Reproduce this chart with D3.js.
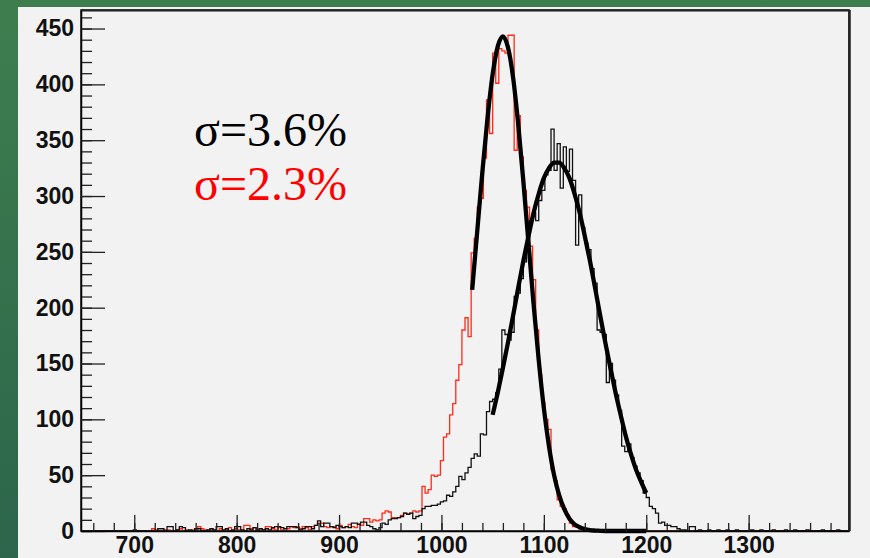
<!DOCTYPE html>
<html lang="en">

<head>
    <meta charset="UTF-8">
    <title>Resolution histograms</title>

    <script src="https://cdn.jsdelivr.net/npm/d3@7"></script>

    <style>
        body {
            margin: 0;
            background: #356f4b;
        }

        .tick text {
            font-family: "Liberation Sans", Arial, sans-serif;
            font-weight: bold;
            font-size: 23px;
            fill: #111;
        }

        .sigma {
            font-family: "Liberation Serif", "Times New Roman", serif;
            font-size: 48px;
        }
    </style>

</head>


<body>
    <svg width="870" height="558"></svg>

    <script>
        // histogram binning (bins of 3 starting at 648)
        const binStart = 648;
        const binWidth = 3;

        // red histogram, sigma = 2.3 %
        const redCounts = [
            0, 0, 0, 0, 0, 0, 0, 0, 0, 0,            // 648
            0, 0, 0, 0, 0, 0, 0, 0, 0, 0,            // 678
            0, 0, 0, 2, 1, 0, 0, 1, 1, 0,            // 708
            0, 1, 2, 0, 1, 0, 1, 0, 4, 2,            // 738
            1, 0, 2, 1, 0, 2, 0, 1, 3, 0,            // 768
            2, 1, 1, 5, 5, 2, 3, 1, 2, 1,            // 798
            4, 4, 2, 1, 3, 1, 0, 2, 4, 3,            // 828
            4, 2, 4, 3, 1, 4, 5, 7, 7, 4,            // 858
            3, 4, 4, 2, 5, 3, 4, 6, 4, 3,            // 888
            6, 5, 11, 11, 8, 10, 9, 10, 16, 18,      // 918
            17, 12, 12, 12, 14, 16, 15, 16, 18, 17,  // 948
            18, 40, 34, 37, 50, 49, 50, 63, 84, 87,  // 978
            104, 114, 135, 149, 180, 191, 174, 249, 262, 290,   // 1008
            298, 334, 386, 356, 428, 401, 432, 430, 428, 444,   // 1038
            444, 341, 372, 335, 305, 290, 255, 225, 180, 140,   // 1068
            115, 100, 91, 55, 45, 28, 22, 20, 14, 7, // 1098
            4, 5, 2, 3, 1, 1, 0, 1, 0, 0,            // 1128
            0, 0, 0, 0, 0, 0, 0, 0, 0, 0,            // 1158
            0, 0, 0, 0, 0, 0, 0, 0, 0, 0,            // 1188
            0, 0, 0, 0, 0, 0, 0, 0, 0, 0,            // 1218
            0, 0, 0, 0, 0, 0, 0, 0, 0, 0,            // 1248
            0, 0, 0, 0, 0, 0, 0, 0, 0, 0,            // 1278
            0, 0, 0, 0, 0, 0, 0, 0, 0, 0,            // 1308
            0, 0, 0, 0, 0, 0, 0, 0, 0, 0,            // 1338
            0, 0, 0, 0, 0, 0, 0, 0, 0, 0             // 1368
        ];

        // black histogram, sigma = 3.6 %
        const blackCounts = [
            0, 0, 0, 0, 0, 0, 0, 0, 0, 0,            // 648
            0, 0, 0, 0, 0, 0, 0, 1, 0, 0,            // 678
            0, 0, 0, 0, 0, 2, 2, 0, 4, 4,            // 708
            0, 1, 4, 3, 0, 1, 0, 2, 2, 0,            // 738
            0, 1, 2, 1, 4, 4, 1, 2, 0, 1,            // 768
            4, 4, 1, 0, 2, 1, 3, 0, 2, 1,            // 798
            2, 1, 3, 4, 4, 3, 2, 4, 4, 4,            // 828
            3, 1, 2, 4, 4, 2, 5, 9, 4, 7,            // 858
            7, 4, 3, 5, 4, 3, 4, 3, 7, 7,            // 888
            6, 8, 8, 5, 4, 2, 1, 3, 7, 6,            // 918
            10, 11, 11, 12, 13, 16, 15, 16, 11, 13,  // 948
            14, 20, 22, 22, 23, 23, 24, 26, 27, 32,  // 978
            31, 35, 40, 49, 46, 52, 57, 65, 69, 67,  // 1008
            87, 86, 107, 116, 118, 124, 145, 180, 176, 171,     // 1038
            178, 210, 213, 226, 241, 250, 278, 285, 278, 296,   // 1068
            305, 319, 323, 360, 323, 347, 307, 344, 322, 342,   // 1098
            314, 256, 301, 272, 258, 252, 235, 222, 180, 178,   // 1128
            176, 133, 150, 135, 122, 108, 76, 71, 78, 66,       // 1158
            58, 52, 45, 34, 30, 22, 20, 16, 7, 8,    // 1188
            5, 5, 4, 4, 2, 1, 1, 0, 4, 4,            // 1218
            0, 1, 0, 0, 1, 0, 0, 1, 0, 0,            // 1248
            1, 0, 0, 1, 0, 0, 0, 0, 1, 0,            // 1278
            0, 1, 0, 0, 0, 1, 0, 0, 0, 1,            // 1308
            0, 0, 1, 0, 0, 0, 1, 0, 0, 0,            // 1338
            0, 1, 0, 0, 0, 0, 1, 0, 0, 0             // 1368
        ];

        const redFitX = d3.range(1030, 1201, 5);
        const redFitY = [216, 269, 322, 370, 409, 434, 443, 433, 406, 364, 313, 258,
            203, 153, 110, 76, 50, 32, 19.5, 11, 6, 3.4, 1.7, 0.8, 0.4, 0.2,
            0, 0, 0, 0, 0, 0, 0, 0, 0];
        const blackFitX = d3.range(1050, 1201, 5);
        const blackFitY = [104, 124, 146, 169, 193, 218, 242, 264, 285, 302, 316, 325,
            330, 330, 325, 316, 302, 285, 264, 242, 218, 193, 169, 146, 124, 104,
            85, 69, 55, 44, 34];

        const yTickLabels = [0, 50, 100, 150, 200, 250, 300, 350, 400, 450];
        const xTickLabels = [700, 800, 900, 1000, 1100, 1200, 1300];
        const sigmaLabels = ["σ=3.6%", "σ=2.3%"];

        let svg = d3.select("svg");

        // green slide background + grey pad
        let defs = svg.append("defs");
        let grad = defs.append("linearGradient").attr("id", "bg")
            .attr("x1", 0).attr("y1", 0).attr("x2", 0).attr("y2", 1);
        grad.append("stop").attr("offset", "0%").attr("stop-color", "#3e7e4e");
        grad.append("stop").attr("offset", "100%").attr("stop-color", "#2c654b");
        svg.append("rect").attr("width", 870).attr("height", 558).attr("fill", "url(#bg)");
        svg.append("rect").attr("x", 18).attr("y", 7).attr("width", 852).attr("height", 551)
            .attr("fill", "#f2f2f2");

        const frameL = 81, frameR = 849, frameT = 10, frameB = 531;

        const x = d3.scaleLinear().domain([648, 1398]).range([frameL, frameR]);
        const y = d3.scaleLinear().domain([0, 466.6]).range([frameB, frameT]);

        // histogram outline as steps
        function histLine(counts) {
            let pts = counts.map((c, i) => [binStart + i * binWidth, c]);
            pts.push([binStart + counts.length * binWidth, counts[counts.length - 1]]);
            return d3.line()
                .x(d => x(d[0]))
                .y(d => y(d[1]))
                .curve(d3.curveStepAfter)(pts);
        }

        svg.append("path")
            .attr("d", histLine(redCounts))
            .attr("fill", "none")
            .attr("stroke", "#ff2a17")
            .attr("stroke-width", 1.3);

        svg.append("path")
            .attr("d", histLine(blackCounts))
            .attr("fill", "none")
            .attr("stroke", "#111")
            .attr("stroke-width", 1.3);

        // fits
        const fitLine = d3.line()
            .x(d => x(d[0]))
            .y(d => y(d[1]))
            .curve(d3.curveMonotoneX);

        svg.append("path")
            .attr("d", fitLine(redFitX.map((v, i) => [v, redFitY[i]])))
            .attr("fill", "none")
            .attr("stroke", "#000")
            .attr("stroke-width", 4.3)
            .attr("stroke-linejoin", "round");

        svg.append("path")
            .attr("d", fitLine(blackFitX.map((v, i) => [v, blackFitY[i]])))
            .attr("fill", "none")
            .attr("stroke", "#000")
            .attr("stroke-width", 4.3)
            .attr("stroke-linejoin", "round");

        // frame
        svg.append("rect")
            .attr("x", frameL).attr("y", frameT)
            .attr("width", frameR - frameL).attr("height", frameB - frameT)
            .attr("fill", "none").attr("stroke", "#111").attr("stroke-width", 1.5);
        svg.append("line")
            .attr("x1", frameR + 0.5).attr("x2", frameR + 0.5)
            .attr("y1", frameT).attr("y2", frameB)
            .attr("stroke", "#222").attr("stroke-width", 2.5);
        svg.append("line")
            .attr("x1", frameL).attr("x2", frameR)
            .attr("y1", frameT + 0.5).attr("y2", frameT + 0.5)
            .attr("stroke", "#222").attr("stroke-width", 2);

        // y axis: major + minor ticks pointing inward
        svg.append("g").attr("transform", `translate(${frameL},0)`)
            .call(d3.axisLeft(y).tickValues(d3.range(0, 461, 10)).tickSizeInner(-11)
                .tickSizeOuter(0).tickFormat(""))
            .call(g => g.select(".domain").remove());
        svg.append("g").attr("transform", `translate(${frameL},0)`)
            .call(d3.axisLeft(y).tickValues(yTickLabels).tickSizeInner(-24)
                .tickSizeOuter(0).tickPadding(7).tickFormat(d3.format("d")))
            .call(g => g.select(".domain").attr("stroke-width", 1.5));

        // x axis
        svg.append("g").attr("transform", `translate(0,${frameB})`)
            .call(d3.axisBottom(x).tickValues(d3.range(660, 1391, 20)).tickSizeInner(-8)
                .tickSizeOuter(0).tickFormat(""))
            .call(g => g.select(".domain").remove());
        svg.append("g").attr("transform", `translate(0,${frameB})`)
            .call(d3.axisBottom(x).tickValues(xTickLabels).tickSizeInner(-16)
                .tickSizeOuter(0).tickPadding(6).tickFormat(d3.format("d")))
            .call(g => g.select(".domain").attr("stroke-width", 1.5));

        svg.selectAll(".tick line").attr("stroke", "#222").attr("stroke-width", 1.3);

        // sigma labels
        svg.append("text").attr("class", "sigma")
            .attr("x", 194).attr("y", 146).attr("fill", "#000")
            .text(sigmaLabels[0]);
        svg.append("text").attr("class", "sigma")
            .attr("x", 194).attr("y", 200).attr("fill", "#ff0000")
            .text(sigmaLabels[1]);
    </script>
</body>

</html>
